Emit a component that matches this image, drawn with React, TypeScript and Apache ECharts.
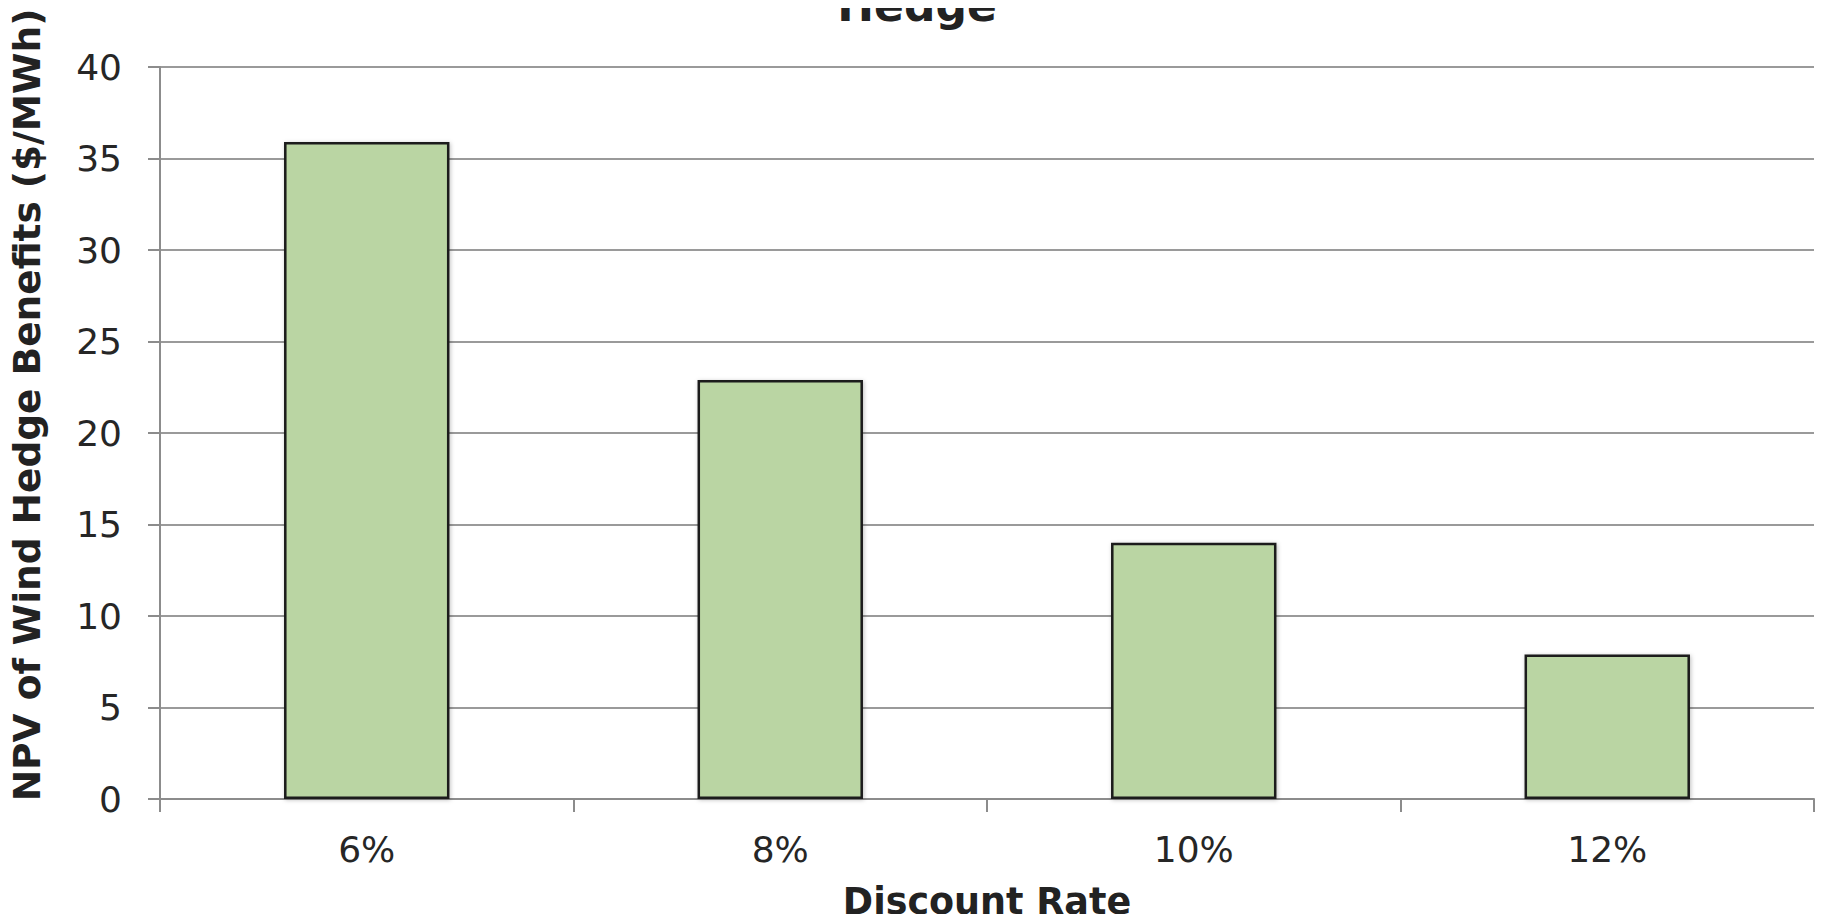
import React, { useEffect, useRef } from "react";
import * as echarts from "echarts";

const categories = ["6%", "8%", "10%", "12%"];
const npvValues = [35.9, 22.9, 14.0, 7.9];
const yTicks = [0, 5, 10, 15, 20, 25, 30, 35, 40];

const FONT = "'DejaVu Sans', Verdana, sans-serif";

export default function App() {
  const ref = useRef<HTMLDivElement>(null);

  useEffect(() => {
    if (!ref.current) return;
    const chart = echarts.init(ref.current, undefined, { renderer: "svg" });
    chart.setOption({
      animation: false,
      backgroundColor: "#ffffff",
      grid: {
        left: 160,
        right: 11,
        top: 67,
        bottom: 123,
        containLabel: false,
        outerBoundsMode: "none",
      },
      graphic: [
        {
          type: "text",
          x: 917,
          y: 27,
          style: {
            text: "Hedge",
            font: `bold 44px ${FONT}`,
            fill: "#222222",
            align: "center",
            verticalAlign: "bottom",
          },
        },
        {
          type: "text",
          x: 27,
          y: 405,
          rotation: Math.PI / 2,
          style: {
            text: "NPV of Wind Hedge Benefits ($/MWh)",
            font: `bold 37.5px ${FONT}`,
            fill: "#222222",
            align: "center",
            verticalAlign: "middle",
          },
        },
        {
          type: "text",
          x: 987,
          y: 901,
          style: {
            text: "Discount Rate",
            font: `bold 36.5px ${FONT}`,
            fill: "#222222",
            align: "center",
            verticalAlign: "middle",
          },
        },
      ],
      xAxis: {
        type: "category",
        data: categories,
        axisLine: { lineStyle: { color: "#8c8c8c", width: 2 } },
        axisTick: { show: true, length: 13, alignWithLabel: false, lineStyle: { color: "#8c8c8c", width: 2 } },
        axisLabel: { fontFamily: FONT, fontSize: 36, color: "#262626", margin: 32 },
        splitLine: { show: false },
      },
      yAxis: {
        type: "value",
        min: 0,
        max: 40,
        interval: 5,
        axisLine: { show: true, lineStyle: { color: "#8c8c8c", width: 2 } },
        axisTick: { show: true, length: 12, lineStyle: { color: "#8c8c8c", width: 2 } },
        axisLabel: {
          fontFamily: FONT,
          fontSize: 36,
          color: "#262626",
          margin: 38,
          formatter: (v: number) => (yTicks.includes(v) ? String(v) : ""),
        },
        splitLine: { show: true, lineStyle: { color: "#9a9a9a", width: 2 } },
      },
      series: [
        {
          type: "bar",
          data: npvValues,
          barWidth: "40%",
          itemStyle: {
            color: "#bad5a3",
            borderColor: "#1a1a1a",
            borderWidth: 2.5,
            shadowColor: "rgba(0,0,0,0.25)",
            shadowBlur: 4,
            shadowOffsetX: 1,
            shadowOffsetY: 1,
          },
        },
      ],
    });
    return () => chart.dispose();
  }, []);

  return <div ref={ref} style={{ width: 1825, height: 922, margin: -8 }} />;
}
